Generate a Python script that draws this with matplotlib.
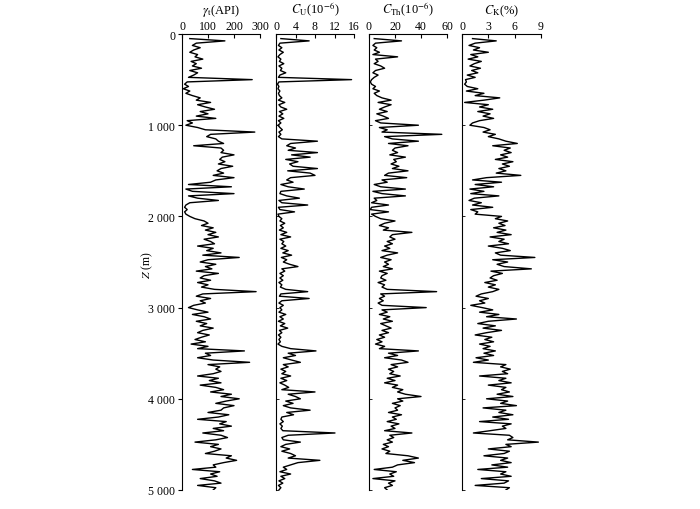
import numpy as np
import matplotlib
matplotlib.use('Agg')
import matplotlib.pyplot as plt

plt.rcParams['font.family'] = ['Liberation Serif', 'DejaVu Serif']
plt.rcParams['mathtext.fontset'] = 'stix'

# valeurs lues tous les 25 m, de 50 m a 5000 m
gamma = [30, 165, 55, 40, 70, 45, 30, 60, 50, 80, 35, 55, 40, 75, 30, 60, 45, 25,
         270, 20,
         10, 25, 5, 30, 15,
         40, 70, 55, 110, 60, 90, 125, 70, 100, 55, 130,
         20, 40, 15,
         60, 90, 280, 110, 95, 130,
         140, 160, 45, 150,
         160, 150, 200, 155, 145, 165, 140, 195, 150, 135, 160,
         120, 200, 130, 110,
         25, 190, 15,
         40, 200, 25, 60, 140, 30,
         15, 10, 20, 10, 15,
         30, 50, 85, 100, 75,
         120, 90, 130, 100, 140, 85, 110, 125,
         60, 120, 95, 150, 80, 220, 100, 70, 130, 90, 115, 55, 140, 85,
         70, 110, 60, 100, 75, 125,
         285,
         80, 55, 110, 70, 90, 45, 25,
         60, 100, 40, 85, 110, 55, 95, 70, 120, 80, 60, 105, 75,
         50, 90, 35, 100, 60, 240,
         90, 110, 60, 120, 260,
         100, 145, 130, 150,
         120, 60, 140, 105, 150, 70, 130, 160, 110,
         190, 150, 220, 170, 130, 200, 160,
         150, 100, 180, 140, 60, 170, 145, 190, 120, 160, 80, 150, 175,
         130, 50, 140, 110, 150, 125, 90,
         190, 170, 210, 160, 120,
         130, 40, 145, 110, 135, 70, 125, 150, 60, 130, 120]

uranium = [1.0, 6.8, 0.8, 0.5, 1.2, 0.6, 1.5, 0.8, 0.4, 1.0, 0.7, 1.6, 0.6, 1.2, 0.9, 2.0, 0.8, 0.5,
           15.5, 0.6,
           0.3, 0.6, 0.4, 0.8, 0.5,
           0.7, 1.2, 0.5, 1.8, 0.6, 1.0, 2.2, 0.7, 1.4, 0.6, 1.6,
           0.5, 1.0, 0.4,
           0.8, 1.3, 0.6, 1.0, 0.5, 1.2,
           8.5, 3.0, 2.2, 4.0,
           2.5, 8.5, 3.2, 7.0, 2.0, 4.5, 2.8, 3.5, 8.5, 2.4, 7.0,
           8.0, 3.0, 2.2, 3.5,
           1.0, 2.5, 5.8,
           1.0, 0.8, 2.2, 4.8, 0.6, 1.2,
           6.5, 0.5, 0.8, 3.8, 0.4,
           0.6, 1.2, 0.8, 1.8, 0.9,
           1.5, 0.7, 2.2, 1.0, 3.0, 0.8, 1.6, 1.2,
           2.0, 1.0, 2.5, 1.4, 3.2, 1.1, 2.2, 1.5, 2.8, 4.5, 1.2, 1.8, 0.8, 1.5,
           0.8, 1.4, 0.6, 1.2, 0.9, 2.0,
           6.5,
           1.0, 0.7, 6.8, 1.2, 0.6, 1.5, 0.8,
           1.2, 0.6, 2.0, 0.8, 1.5, 0.5, 1.8, 0.9, 2.4, 0.7, 1.2, 0.5, 1.0,
           0.6, 0.9, 0.4, 1.2, 3.0, 8.2,
           2.5, 4.0, 1.5, 3.2, 5.0,
           1.5, 2.5, 1.0, 2.0,
           1.2, 3.0, 1.0, 2.2, 0.8, 1.8, 2.6, 1.2, 8.0,
           2.5, 4.0, 5.0, 2.0, 3.5, 1.5, 3.0,
           7.0, 2.2, 3.6, 1.2, 1.0, 1.5, 0.8, 1.3, 1.0, 1.4, 12.1, 2.5, 1.2,
           1.5, 5.0, 2.0, 1.0, 2.8, 1.2, 3.0,
           4.0, 2.5, 9.0, 4.5, 3.0,
           1.5, 2.2, 0.8, 3.0, 1.0, 1.8, 0.6, 1.4, 0.5, 1.0, 0.6]

thorium = [4, 25, 5, 3, 6, 4, 8, 3, 22, 5, 7, 4, 9, 12, 5, 3, 7, 4,
           2, 1,
           2, 5, 3, 8, 4,
           6, 10, 17, 7, 17, 12, 8, 14, 6, 11, 15,
           5, 9, 38,
           8, 14, 10, 56, 12, 18,
           38, 15, 30, 20,
           18, 22, 16, 28, 19, 21, 17, 23, 18, 30, 15,
           12, 29, 10, 14,
           4, 9, 28,
           3, 10, 28, 4, 6, 2,
           15, 2, 1, 15, 2,
           5, 9, 20, 12, 8,
           15, 11, 33, 18, 16, 20, 14, 18,
           12, 16, 10, 22, 14, 9, 17, 12, 15, 11, 18, 8, 14, 10,
           9, 13, 7, 12, 10, 14,
           52,
           9, 12, 8, 11, 7, 10, 44,
           10, 14, 8, 16, 11, 18, 9, 13, 17, 10, 15, 8, 12,
           6, 10, 5, 12, 8, 38,
           15, 22, 12, 25, 30,
           17, 22, 15, 19,
           16, 24, 14, 20, 12, 22, 18, 26, 22,
           28, 40, 22, 26, 18, 24, 20,
           22, 15, 25, 18, 21, 14, 23, 17, 20, 12, 33, 16, 19,
           14, 18, 11, 15, 10, 16, 13,
           30, 38, 26, 35, 22,
           18, 4, 21, 16, 19, 3, 20, 15, 18, 12, 14]

potassium = [1.2, 3.9, 1.5, 0.8, 2.0, 1.3, 3.0, 1.0, 1.8, 0.7, 2.2, 1.4, 0.9, 2.1, 1.1, 1.8, 0.6, 1.5,
             0.4, 0.5,
             0.3, 0.6, 1.8, 0.5, 2.5,
             1.5, 4.3, 2.5, 0.3, 3.0, 2.0, 3.5, 1.8, 3.2, 2.4, 3.6,
             2.0, 1.2, 0.9,
             2.5, 3.2, 2.4, 3.8, 3.0, 4.2,
             5.0, 6.3, 3.5, 5.5,
             4.8, 5.6, 4.4, 5.2, 3.8, 5.8, 4.6, 5.4, 4.2, 5.0, 3.9,
             6.7, 2.8, 1.2, 4.5,
             1.5, 3.6, 0.9,
             2.5, 1.0, 4.2, 1.4, 0.8, 2.2,
             1.2, 3.5, 1.0, 1.8, 1.5,
             4.5, 3.8, 5.2, 4.2, 4.9,
             3.6, 5.0, 4.0, 5.6, 3.2, 4.8, 4.2, 5.3,
             3.0, 4.6, 5.5, 3.8, 4.4, 8.3, 3.5, 5.2, 4.0, 4.8, 7.9, 3.3, 4.6, 3.6,
             3.2, 4.0, 2.6, 3.8, 3.0, 4.2,
             3.5,
             2.2, 1.6, 3.0, 2.0, 2.6, 1.0, 2.3,
             3.5, 2.0, 4.2, 2.8, 6.2, 3.0, 1.8, 3.8, 2.4, 4.5, 2.8, 1.5, 3.4,
             2.6, 3.6, 2.0, 3.2, 2.4, 3.8,
             2.5, 3.6, 1.6, 3.0, 1.3,
             5.0, 4.4, 5.5, 4.6,
             5.2, 2.0, 5.0, 4.2, 5.6, 3.0, 5.0, 4.5, 5.4,
             4.0, 5.8, 2.8, 5.2, 4.4, 6.2, 2.4,
             5.0, 4.2, 5.8, 3.5, 5.3, 2.0, 5.6, 4.6, 5.0, 3.2, 1.3, 5.4, 5.8,
             5.2, 8.7, 5.0, 5.6, 3.0, 5.4, 4.8,
             2.5, 5.2, 4.4, 5.6, 3.4,
             5.2, 1.8, 5.0, 4.4, 5.6, 2.2, 5.3, 4.8, 1.5, 5.4, 5.0]

titres = [r'$\gamma_{\rm t}$(API)', r'$C_{\rm U}$(10$^{-6}$)',
          r'$C_{\rm Th}$(10$^{-6}$)', r'$C_{\rm K}$(%)']
maxs = [300, 16, 60, 9]
graduations = [[0, 100, 200, 300], [0, 4, 8, 12, 16], [0, 20, 40, 60], [0, 3, 6, 9]]
profondeurs = [0, 1000, 2000, 3000, 4000, 5000]
etiquettes_z = ['0', '1 000', '2 000', '3 000', '4 000', '5 000']

fig = plt.figure(figsize=(7, 5.1), dpi=100)
gauches = [182, 276, 369, 462]
largeurs = [78, 78, 78, 79]

for i, serie in enumerate([gamma, uranium, thorium, potassium]):
    ax = fig.add_axes([gauches[i] / 700, 0.0373, largeurs[i] / 700, 0.894])
    depth = 50 + 25 * np.arange(len(serie))
    ax.plot(serie, depth, color='k', lw=1.0)
    ax.set_xlim(0, maxs[i])
    ax.set_ylim(5000, 0)
    ax.spines['right'].set_visible(False)
    ax.spines['bottom'].set_visible(False)
    ax.xaxis.tick_top()
    ax.set_xticks(graduations[i])
    ax.tick_params(axis='x', direction='in', length=3, labelsize=8.5, pad=1.5, width=0.8)
    ax.set_yticks(profondeurs)
    if i == 0:
        ax.set_yticklabels(etiquettes_z)
        ax.tick_params(axis='y', direction='out', length=3, labelsize=8.5, pad=2, width=0.8)
    else:
        ax.set_yticklabels([])
        ax.tick_params(axis='y', direction='in', length=2, width=0.6)
    ax.set_title(titres[i], fontsize=9, pad=5)

fig.text(0.21, 0.48, '$Z$ (m)', rotation=90, fontsize=8.5, ha='center', va='center')

fig.savefig('out.png', dpi=100)
